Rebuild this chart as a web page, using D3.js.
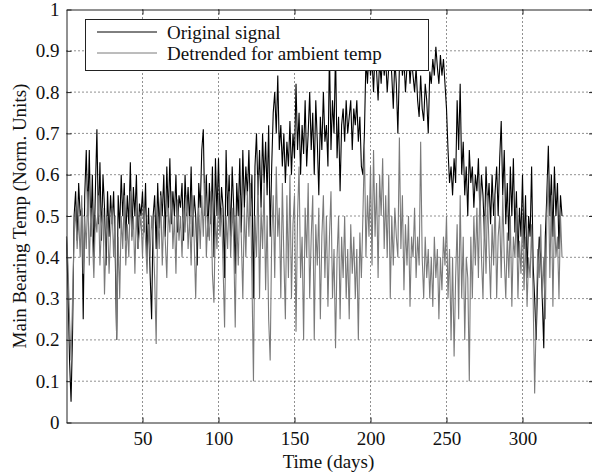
<!DOCTYPE html>
<html>
<head>
<meta charset="utf-8">
<script src="https://cdn.jsdelivr.net/npm/d3@7"></script>
<style>
  body { margin: 0; background: #fff; }
  text { font-family: "Liberation Serif", "DejaVu Serif", serif; }
</style>
</head>
<body>
<div id="graf"></div>
<script>
// datos: un valor por dia (dia 0 .. 326)
original = [
  0.45, 0.32, 0.15, 0.05, 0.22, 0.5, 0.56, 0.44, 0.58, 0.5,
  0.52, 0.25, 0.55, 0.66, 0.5, 0.66, 0.45, 0.6, 0.4, 0.56,
  0.71, 0.48, 0.63, 0.44, 0.6, 0.52, 0.38, 0.56, 0.45, 0.55,
  0.48, 0.56, 0.42, 0.2, 0.55, 0.47, 0.6, 0.5, 0.58, 0.44,
  0.55, 0.48, 0.63, 0.45, 0.57, 0.5, 0.6, 0.42, 0.53, 0.5,
  0.56, 0.46, 0.58, 0.4, 0.52, 0.36, 0.25, 0.5, 0.55, 0.42,
  0.58, 0.47, 0.56, 0.5, 0.6, 0.45, 0.62, 0.5, 0.64, 0.48,
  0.56, 0.5, 0.6, 0.46, 0.55, 0.52, 0.58, 0.44, 0.6, 0.5,
  0.57, 0.48, 0.62, 0.45, 0.55, 0.5, 0.38, 0.58, 0.52, 0.66,
  0.71, 0.5, 0.6, 0.45, 0.58, 0.48, 0.62, 0.4, 0.64, 0.5,
  0.64, 0.48, 0.57, 0.52, 0.35, 0.66, 0.5, 0.6, 0.45, 0.62,
  0.52, 0.36, 0.58, 0.5, 0.64, 0.46, 0.66, 0.52, 0.62, 0.55,
  0.66, 0.5, 0.6, 0.3, 0.62, 0.7, 0.55, 0.66, 0.52, 0.7,
  0.58, 0.68, 0.55, 0.72, 0.45, 0.62, 0.75, 0.8, 0.7, 0.84,
  0.66, 0.72, 0.62, 0.7, 0.58, 0.68, 0.62, 0.73, 0.6, 0.7,
  0.64, 0.82, 0.66, 0.75, 0.6, 0.72, 0.65, 0.78, 0.62, 0.7,
  0.8, 0.66, 0.75, 0.6, 0.78, 0.68, 0.55, 0.74, 0.66, 0.8,
  0.68, 0.72, 0.62, 0.9, 0.66, 0.78, 0.7, 0.9, 0.64, 0.74,
  0.56, 0.72, 0.76, 0.68, 0.78, 0.7, 0.74, 0.78, 0.66, 0.76,
  0.72, 0.78, 0.68, 0.74, 0.62, 0.6, 0.7, 0.88, 0.82, 0.9,
  0.84, 0.88, 0.8, 0.9, 0.85, 0.78, 0.88, 0.82, 0.9, 0.84,
  0.88, 0.8, 0.86, 0.9, 0.84, 0.76, 0.88, 0.82, 0.7, 0.86,
  0.9, 0.84, 0.88, 0.8, 0.86, 0.9, 0.82, 0.88, 0.84, 0.8,
  0.86, 0.78, 0.74, 0.84, 0.76, 0.73, 0.82, 0.78, 0.7, 0.85,
  0.82, 0.88, 0.84, 0.91, 0.86, 0.82, 0.89, 0.84, 0.88, 0.82,
  0.76, 0.66, 0.58, 0.62, 0.55, 0.64, 0.58, 0.78, 0.66, 0.82,
  0.6, 0.68, 0.55, 0.62, 0.5, 0.66, 0.58, 0.62, 0.52, 0.6,
  0.56, 0.64, 0.5, 0.6, 0.55, 0.45, 0.62, 0.52, 0.58, 0.48,
  0.6, 0.5, 0.56, 0.62, 0.5, 0.64, 0.73, 0.55, 0.66, 0.48,
  0.58, 0.44, 0.62, 0.5, 0.64, 0.46, 0.56, 0.4, 0.52, 0.45,
  0.6, 0.42, 0.55, 0.35, 0.5, 0.45, 0.62, 0.38, 0.3, 0.2,
  0.35, 0.45, 0.4, 0.3, 0.18, 0.45, 0.55, 0.67, 0.5, 0.6,
  0.45, 0.62, 0.5, 0.58, 0.42, 0.55, 0.5
]

detrended = [
  0.45, 0.38, 0.25, 0.15, 0.3, 0.45, 0.52, 0.42, 0.5, 0.4,
  0.55, 0.36, 0.5, 0.42, 0.56, 0.38, 0.52, 0.45, 0.35, 0.5,
  0.46, 0.55, 0.38, 0.48, 0.52, 0.31, 0.45, 0.5, 0.36, 0.46,
  0.52, 0.4, 0.5, 0.2, 0.45, 0.3, 0.5, 0.42, 0.55, 0.38,
  0.48, 0.4, 0.56, 0.44, 0.5, 0.36, 0.52, 0.42, 0.46, 0.5,
  0.4, 0.52, 0.44, 0.36, 0.48, 0.4, 0.5, 0.44, 0.35, 0.19,
  0.5, 0.42, 0.55, 0.38, 0.5, 0.44, 0.35, 0.52, 0.46, 0.56,
  0.42, 0.5, 0.36, 0.54, 0.44, 0.5, 0.4, 0.52, 0.46, 0.55,
  0.42, 0.5, 0.38, 0.55, 0.44, 0.3, 0.48, 0.52, 0.42, 0.55,
  0.45, 0.58, 0.4, 0.5, 0.44, 0.56, 0.36, 0.29, 0.5, 0.42,
  0.55, 0.45, 0.52, 0.38, 0.23, 0.5, 0.42, 0.56, 0.4, 0.52,
  0.44, 0.23, 0.5, 0.38, 0.55, 0.45, 0.3, 0.52, 0.4, 0.56,
  0.45, 0.58, 0.35, 0.1, 0.5, 0.4, 0.6, 0.3, 0.52, 0.42,
  0.58, 0.32, 0.5, 0.25, 0.15, 0.45, 0.55, 0.35, 0.62, 0.45,
  0.52, 0.3, 0.58, 0.4, 0.25, 0.55, 0.35, 0.6, 0.3, 0.48,
  0.55, 0.22, 0.5, 0.62, 0.35, 0.45, 0.2, 0.52, 0.4, 0.58,
  0.3, 0.45, 0.55, 0.2, 0.48, 0.38, 0.52, 0.25, 0.45, 0.55,
  0.35, 0.5, 0.28, 0.45, 0.56, 0.3, 0.42, 0.18, 0.4, 0.5,
  0.25, 0.45, 0.35, 0.5, 0.3, 0.42, 0.25, 0.48, 0.36, 0.45,
  0.3, 0.42, 0.2, 0.46, 0.35, 0.5, 0.67, 0.4, 0.55, 0.45,
  0.62, 0.38, 0.66, 0.45, 0.58, 0.35, 0.6, 0.5, 0.64, 0.42,
  0.55, 0.4, 0.6, 0.3, 0.5, 0.38, 0.52, 0.45, 0.4, 0.69,
  0.42, 0.55, 0.32, 0.48, 0.38, 0.5, 0.28, 0.45, 0.4, 0.52,
  0.35, 0.45, 0.38, 0.68, 0.4, 0.3, 0.45, 0.35, 0.42, 0.3,
  0.4, 0.28, 0.45, 0.35, 0.42, 0.25, 0.4, 0.32, 0.45, 0.38,
  0.5, 0.3, 0.42, 0.2, 0.4, 0.16, 0.35, 0.48, 0.25, 0.55,
  0.3, 0.45, 0.2, 0.4, 0.35, 0.1, 0.45, 0.3, 0.5, 0.38,
  0.52, 0.35, 0.58, 0.4, 0.3, 0.5, 0.36, 0.55, 0.42, 0.3,
  0.48, 0.38, 0.55, 0.3, 0.45, 0.5, 0.35, 0.55, 0.4, 0.3,
  0.46, 0.35, 0.5, 0.28, 0.45, 0.4, 0.52, 0.3, 0.44, 0.36,
  0.5, 0.32, 0.45, 0.28, 0.4, 0.35, 0.48, 0.3, 0.07, 0.25,
  0.42, 0.35, 0.48, 0.3, 0.4, 0.25, 0.5, 0.6, 0.35, 0.55,
  0.28, 0.5, 0.4, 0.45, 0.3, 0.5, 0.4
]

xTicks = [50, 100, 150, 200, 250, 300]
yTicks = [0, 0.1, 0.2, 0.3, 0.4, 0.5, 0.6, 0.7, 0.8, 0.9, 1]
leyenda = ['Original signal', 'Detrended for ambient temp']
colores = ['#000000', '#7a7a7a']

// I. Configuracion
ancho_total = 592
alto_total = 474
margins = { top: 9.5, left: 66.5, right: -2, bottom: 51.5 }
ancho = ancho_total - margins.left - margins.right
alto = alto_total - margins.top - margins.bottom

svg = d3.select('#graf').append('svg')
        .attr('width', ancho_total)
        .attr('height', alto_total)
        .style('display', 'block')

g = svg.append('g')
        .attr('transform', `translate(${margins.left}, ${margins.top})`)

// 50 dias = 76 px
x = d3.scaleLinear().domain([0, ancho / 1.52]).range([0, ancho])
y = d3.scaleLinear().domain([0, 1]).range([alto, 0])

// rejilla punteada
g.selectAll('.gx').data(xTicks).enter().append('line')
        .attr('x1', d => x(d)).attr('x2', d => x(d))
        .attr('y1', 0).attr('y2', alto)
        .attr('stroke', '#222').attr('stroke-width', 1)
        .attr('stroke-dasharray', '1,3')

g.selectAll('.gy').data(yTicks.slice(1, -1)).enter().append('line')
        .attr('x1', 0).attr('x2', ancho)
        .attr('y1', d => y(d)).attr('y2', d => y(d))
        .attr('stroke', '#222').attr('stroke-width', 1)
        .attr('stroke-dasharray', '1,3')

// lineas
valueline = d3.line()
        .x((d, i) => x(i))
        .y(d => y(d))

g.append('path').datum(original)
        .attr('fill', 'none')
        .attr('stroke', colores[0])
        .attr('stroke-width', 1.1)
        .attr('d', valueline)

g.append('path').datum(detrended)
        .attr('fill', 'none')
        .attr('stroke', colores[1])
        .attr('stroke-width', 1.1)
        .attr('d', valueline)

// ejes (marcas hacia adentro, en los cuatro lados)
xAxisGroup = g.append('g').attr('transform', `translate(0, ${alto})`)
        .call(d3.axisBottom(x).tickValues(xTicks).tickSize(-5).tickPadding(9).tickSizeOuter(0))
xTopGroup = g.append('g')
        .call(d3.axisTop(x).tickValues(xTicks).tickSize(-5).tickFormat('').tickSizeOuter(0))
yAxisGroup = g.append('g')
        .call(d3.axisLeft(y).tickValues(yTicks).tickSize(-5).tickPadding(7).tickSizeOuter(0)
                .tickFormat(d => d === 0 || d === 1 ? d : d3.format('.1f')(d)))
yRightGroup = g.append('g').attr('transform', `translate(${ancho}, 0)`)
        .call(d3.axisRight(y).tickValues(yTicks).tickSize(-5).tickFormat('').tickSizeOuter(0))

svg.selectAll('.domain').attr('stroke', '#222').attr('stroke-width', 1)
svg.selectAll('.tick line').attr('stroke', '#222')
svg.selectAll('.tick text').attr('font-size', 19).attr('fill', '#111')
        .style('font-family', '"Liberation Serif", serif')

// titulos
svg.append('text')
        .attr('x', margins.left + 262).attr('y', 468)
        .attr('text-anchor', 'middle').attr('font-size', 19).attr('fill', '#111')
        .text('Time (days)')

svg.append('text')
        .attr('transform', `translate(26, ${margins.top + alto / 2}) rotate(-90)`)
        .attr('text-anchor', 'middle').attr('font-size', 19).attr('fill', '#111')
        .text('Main Bearing Temp (Norm. Units)')

// leyenda
leg = svg.append('g')
leg.append('rect')
        .attr('x', 85.5).attr('y', 19.5).attr('width', 343).attr('height', 51)
        .attr('fill', '#fff').attr('stroke', '#222').attr('stroke-width', 1)

leyenda.forEach(function (d, i) {
        leg.append('line')
                .attr('x1', 97).attr('x2', 157)
                .attr('y1', 32 + i * 21).attr('y2', 32 + i * 21)
                .attr('stroke', colores[i]).attr('stroke-width', 1)
        leg.append('text')
                .attr('x', 167).attr('y', 38.5 + i * 21)
                .attr('font-size', 19).attr('fill', '#111')
                .text(d)
})
</script>
</body>
</html>
